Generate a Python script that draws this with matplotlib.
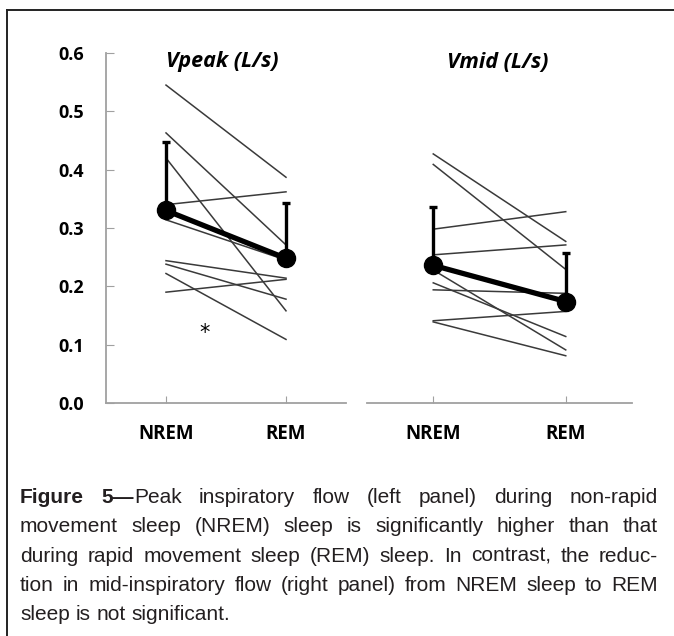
import numpy as np
import matplotlib
matplotlib.use('Agg')
import matplotlib.pyplot as plt
from matplotlib.lines import Line2D
from matplotlib import font_manager as fm

# ---- data ----
stages = ['NREM', 'REM']

# individual subjects, Vpeak (L/s)
vpeak_nrem = [0.545, 0.463, 0.420, 0.340, 0.314, 0.244, 0.238, 0.222, 0.190]
vpeak_rem = [0.387, 0.271, 0.158, 0.362, 0.245, 0.214, 0.178, 0.109, 0.212]
vpeak_mean = [0.330, 0.248]
vpeak_sd = [0.117, 0.095]

# individual subjects, Vmid (L/s)
vmid_nrem = [0.427, 0.409, 0.298, 0.254, 0.206, 0.194, 0.228, 0.141, 0.139]
vmid_rem = [0.277, 0.229, 0.328, 0.271, 0.114, 0.188, 0.091, 0.157, 0.081]
vmid_mean = [0.236, 0.174]
vmid_sd = [0.100, 0.084]

yticks = [0.0, 0.1, 0.2, 0.3, 0.4, 0.5, 0.6]

caption = [
    [[('Figure', 'bold')], [('5—', 'bold'), ('Peak', 'normal')], [('inspiratory', 'normal')],
     [('flow', 'normal')], [('(left', 'normal')], [('panel)', 'normal')], [('during', 'normal')],
     [('non-rapid', 'normal')]],
    'movement sleep (NREM) sleep is significantly higher than that',
    'during rapid movement sleep (REM) sleep. In contrast, the reduc-',
    'tion in mid-inspiratory flow (right panel) from NREM sleep to REM',
    'sleep is not significant.',
]

W, H = 674, 636
fig = plt.figure(figsize=(W / 100, H / 100), dpi=100)
fig.patch.set_facecolor('white')

lab_font = ['Open Sans', 'DejaVu Sans']
axis_gray = '#a0a0a0'


def pick_caption_font():
    # narrow face if there is one, else plain Liberation Sans
    for fam in ['Liberation Sans Narrow', 'Arial Narrow']:
        try:
            fm.findfont(fm.FontProperties(family=fam), fallback_to_default=False)
            return dict(family=fam), 16.5
        except ValueError:
            pass
    return dict(family='Liberation Sans'), 15


cap_props, cap_size = pick_caption_font()


def make_panel(left, width, nrem, rem, mean, sd, title, tx, show_y):
    ax = fig.add_axes([left / W, (H - 403) / H, width / W, 350 / H])
    x = np.arange(len(stages))
    for a, b in zip(nrem, rem):
        ax.plot(x, [a, b], color='#3a3a3a', lw=1.1, zorder=2)
    ax.errorbar(x, mean, yerr=[np.zeros(len(sd)), sd], fmt='none',
                ecolor='black', elinewidth=2.4, capsize=3, capthick=2.4, zorder=3)
    ax.plot(x, mean, color='black', lw=3.8, marker='o', markersize=13, zorder=4)
    ax.set_xlim(-0.5, 1.5)
    ax.set_ylim(0, 0.6)
    ax.set_xticks(x)
    ax.set_xticklabels(stages, fontsize=13.5, fontweight='bold', family=lab_font)
    ax.tick_params(axis='x', direction='in', length=5, color=axis_gray, pad=15)
    for s in ['top', 'right']:
        ax.spines[s].set_visible(False)
    ax.spines['bottom'].set_color(axis_gray)
    ax.spines['bottom'].set_linewidth(1.3)
    if show_y:
        ax.set_yticks(yticks)
        ax.set_yticklabels([f'{v:.1f}' for v in yticks], fontsize=13,
                           fontweight='bold', family=lab_font)
        ax.tick_params(axis='y', direction='in', length=6, color=axis_gray, pad=16)
        ax.spines['left'].set_color(axis_gray)
        ax.spines['left'].set_linewidth(1.3)
    else:
        ax.spines['left'].set_visible(False)
        ax.set_yticks([])
    ax.text(tx, (403 - 62) / 350, title, transform=ax.transAxes, ha='center', va='center',
            fontsize=15.5, fontweight='bold', style='italic', family=lab_font)
    return ax


ax1 = make_panel(106, 240, vpeak_nrem, vpeak_rem, vpeak_mean, vpeak_sd,
                 'Vpeak (L/s)', (222 - 106) / 240, True)
ax1.text(0.325, 0.12, '*', fontsize=15, ha='center', va='center')
ax2 = make_panel(367, 265, vmid_nrem, vmid_rem, vmid_mean, vmid_sd,
                 'Vmid (L/s)', (498 - 367) / 265, False)

# frame around the figure (top and left edges visible)
fig.add_artist(Line2D([7 / W, 7 / W], [0, (H - 10) / H], color='#222222', lw=1.4))
fig.add_artist(Line2D([7 / W, 1], [(H - 10) / H, (H - 10) / H], color='#222222', lw=1.4))

# ---- justified caption ----
renderer = fig.canvas.get_renderer()
cap_color = '#231f20'
x0, x1 = 20, 658
baselines = [503, 532, 562, 591, 620]


def width_px(t):
    return t.get_window_extent(renderer).width


probe1 = fig.text(0, 0, 'x x', fontsize=cap_size, **cap_props)
probe2 = fig.text(0, 0, 'xx', fontsize=cap_size, **cap_props)
space_px = width_px(probe1) - width_px(probe2)
probe1.remove()
probe2.remove()

for i, line in enumerate(caption):
    if isinstance(line, str):
        words = [[(w, 'normal')] for w in line.split(' ')]
    else:
        words = line
    yb = (H - baselines[i]) / H
    placed = []
    total = 0
    for word in words:
        segs = []
        for txt, wt in word:
            t = fig.text(0, yb, txt, fontsize=cap_size, fontweight=wt, color=cap_color,
                         va='baseline', ha='left', **cap_props)
            w = width_px(t)
            segs.append((t, w))
            total += w
        placed.append(segs)
    last = i == len(caption) - 1
    gap = space_px if last else (x1 - x0 - total) / (len(placed) - 1)
    xpos = x0
    for segs in placed:
        for t, w in segs:
            t.set_x(xpos / W)
            xpos += w
        xpos += gap

fig.savefig('out.png', dpi=100, facecolor='white')
